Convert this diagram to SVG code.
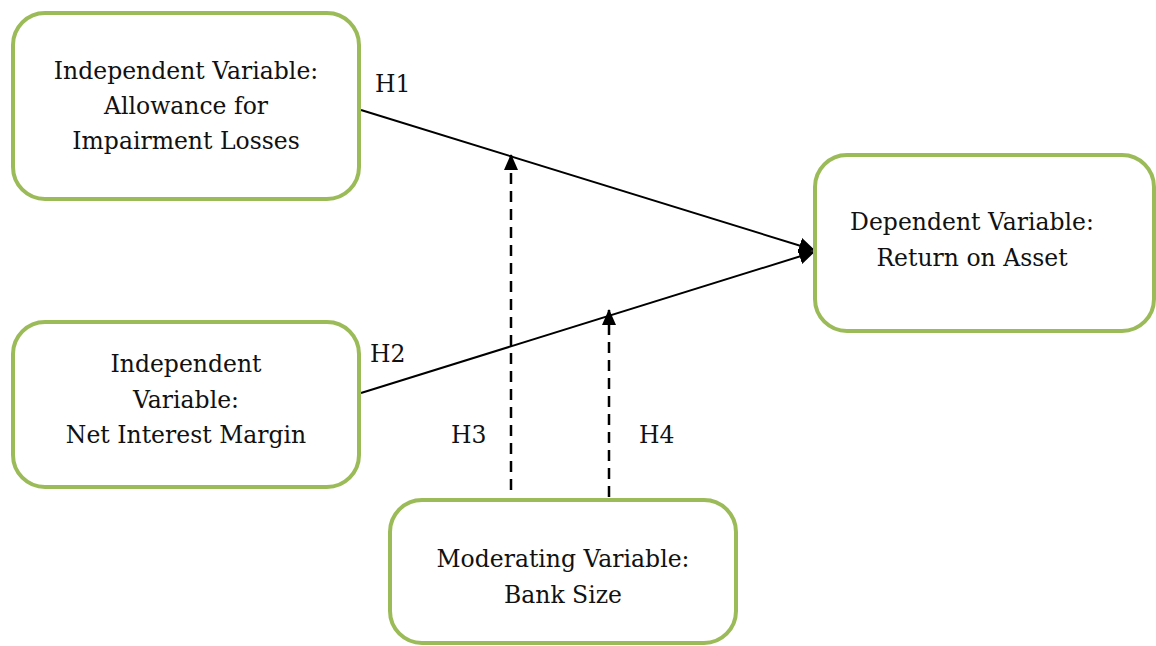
<svg xmlns="http://www.w3.org/2000/svg" width="1156" height="646" viewBox="0 0 1156 646">
<style>
.box{fill:#fff;stroke:#9BBB59;stroke-width:4}
.t{font-family:"DejaVu Serif","Liberation Serif",serif;font-size:23.5px;fill:#111;text-anchor:middle}
.l{font-family:"DejaVu Serif","Liberation Serif",serif;font-size:23.5px;fill:#111}
.c{stroke:#000;stroke-width:2;fill:none}
.d{stroke:#000;stroke-width:2.5;fill:none;stroke-dasharray:11,7}
</style>
<defs>
<marker id="ah" markerWidth="16" markerHeight="14" refX="15" refY="7" orient="auto" markerUnits="userSpaceOnUse" viewBox="0 0 16 14">
<path d="M0,0 L16,7 L0,14 z" fill="#000"/>
</marker>
<marker id="ah2" markerWidth="16" markerHeight="16" refX="15" refY="8" orient="auto" markerUnits="userSpaceOnUse" viewBox="0 0 16 16">
<path d="M0,0 L16,8 L0,16 z" fill="#000"/>
</marker>
</defs>
<g id="connectors">
<line class="c" x1="361" y1="110" x2="814" y2="250" marker-end="url(#ah2)"/>
<line class="c" x1="361" y1="393" x2="814" y2="252" marker-end="url(#ah2)"/>
<line class="d" x1="511" y1="490" x2="511" y2="155" marker-end="url(#ah)"/>
<line class="d" x1="609" y1="497" x2="609" y2="310" marker-end="url(#ah)"/>
<text class="l" x="375" y="92">H1</text>
<text class="l" x="370" y="362">H2</text>
<text class="l" x="451" y="443">H3</text>
<text class="l" x="639" y="443">H4</text>
</g>
<g id="node-ail">
<rect class="box" x="13" y="13" width="346" height="186" rx="32"/>
<text class="t" x="186" y="79">Independent Variable:</text>
<text class="t" x="186" y="114">Allowance for</text>
<text class="t" x="186" y="149">Impairment Losses</text>
</g>
<g id="node-roa">
<rect class="box" x="815" y="155" width="339" height="176" rx="32"/>
<text class="t" x="972" y="230">Dependent Variable:</text>
<text class="t" x="972" y="266">Return on Asset</text>
</g>
<g id="node-nim">
<rect class="box" x="13" y="322" width="346" height="165" rx="32"/>
<text class="t" x="186" y="372">Independent</text>
<text class="t" x="186" y="408">Variable:</text>
<text class="t" x="186" y="443">Net Interest Margin</text>
</g>
<g id="node-size">
<rect class="box" x="390" y="500" width="346" height="143" rx="32"/>
<text class="t" x="563" y="567">Moderating Variable:</text>
<text class="t" x="563" y="603">Bank Size</text>
</g>
</svg>
